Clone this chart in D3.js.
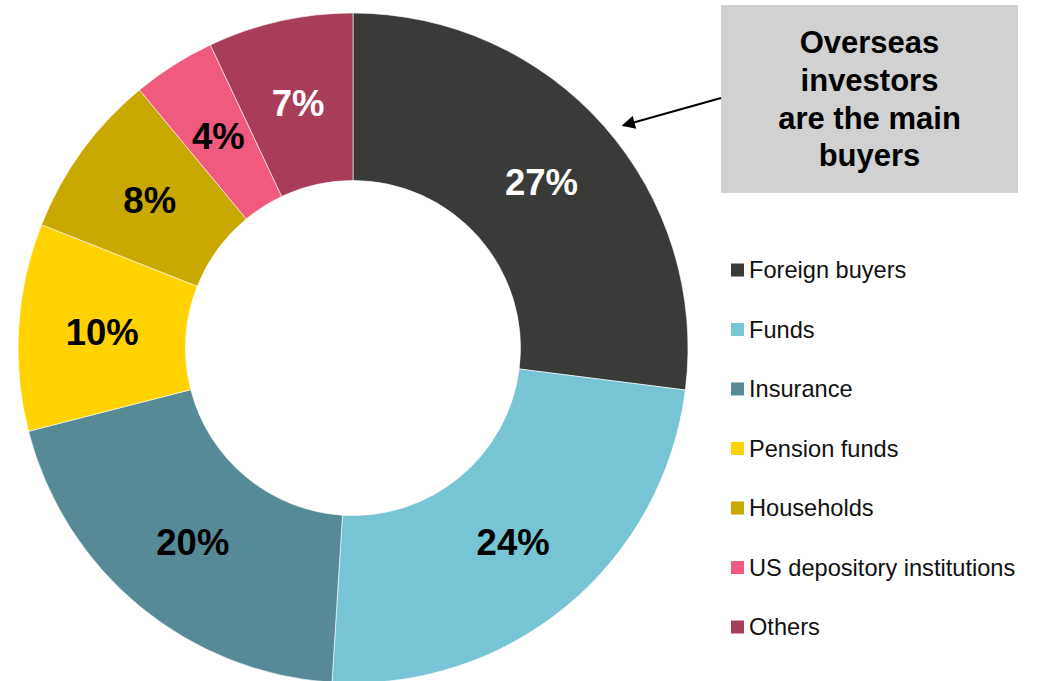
<!DOCTYPE html>
<html>
<head>
<meta charset="utf-8">
<script src="https://cdn.jsdelivr.net/npm/d3@7"></script>
<style>
  html, body { margin: 0; padding: 0; background: #ffffff; }
  svg { display: block; font-family: "Liberation Sans", Arial, sans-serif; }
</style>
</head>
<body>
<svg id="chart" width="1038" height="681"></svg>
<script>
// Holders of the debt, share of total (%)
const categories = ["Foreign buyers", "Funds", "Insurance", "Pension funds", "Households", "US depository institutions", "Others"];
const shares = [27, 24, 20, 10, 8, 4, 7];
const colors = ["#393b38", "#77c4d4", "#558a96", "#ffd200", "#c9a800", "#ef5a7e", "#a83d5a"];
const labelColors = ["#ffffff", "#000000", "#000000", "#000000", "#000000", "#000000", "#ffffff"];
const calloutLines = ["Overseas", "investors", "are the main", "buyers"];

const svg = d3.select("#chart");

// Donut geometry
const cx = 353, cy = 348, outerR = 335, innerR = 167.5;

const pie = d3.pie().sort(null).value(d => d.value);
const arcs = pie(categories.map((c, i) => ({ name: c, value: shares[i], i })));
const arc = d3.arc().innerRadius(innerR).outerRadius(outerR);
const labelArc = d3.arc().innerRadius((innerR + outerR) / 2).outerRadius((innerR + outerR) / 2);

const color = d3.scaleOrdinal().domain(categories).range(colors);

const g = svg.append("g").attr("transform", `translate(${cx},${cy})`);

g.selectAll("path.slice")
  .data(arcs)
  .join("path")
  .attr("class", "slice")
  .attr("d", arc)
  .attr("fill", d => color(d.data.name))
  .attr("stroke", "#ffffff")
  .attr("stroke-width", 0.6);

g.selectAll("text.pct")
  .data(arcs)
  .join("text")
  .attr("class", "pct")
  .attr("transform", d => `translate(${labelArc.centroid(d)})`)
  .attr("text-anchor", "middle")
  .attr("dy", "0.36em")
  .attr("font-size", 36.5)
  .attr("font-weight", "bold")
  .attr("fill", d => labelColors[d.data.i])
  .text(d => d.data.value + "%");

// Callout box
const box = { x: 721, y: 5, w: 297, h: 188 };
svg.append("rect")
  .attr("x", box.x).attr("y", box.y)
  .attr("width", box.w).attr("height", box.h)
  .attr("fill", "#d0d1d0");

svg.append("g")
  .selectAll("text")
  .data(calloutLines)
  .join("text")
  .attr("x", box.x + box.w / 2)
  .attr("y", (d, i) => 53 + i * 37.8)
  .attr("text-anchor", "middle")
  .attr("font-size", 31)
  .attr("font-weight", "bold")
  .attr("fill", "#000000")
  .text(d => d);

// Arrow pointing at the foreign-buyers slice
svg.append("defs").append("marker")
  .attr("id", "arrowhead")
  .attr("viewBox", "0 0 10 10")
  .attr("refX", 9).attr("refY", 5)
  .attr("markerWidth", 7).attr("markerHeight", 6)
  .attr("markerUnits", "strokeWidth")
  .attr("orient", "auto")
  .append("path")
  .attr("d", "M0,0 L10,5 L0,10 Z")
  .attr("fill", "#000000");

svg.append("line")
  .attr("x1", 721).attr("y1", 98)
  .attr("x2", 623).attr("y2", 125.5)
  .attr("stroke", "#000000")
  .attr("stroke-width", 2.2)
  .attr("marker-end", "url(#arrowhead)");

// Legend
const legend = svg.append("g").attr("transform", "translate(731,270)");
const rowH = 59.5;
const rows = legend.selectAll("g")
  .data(categories)
  .join("g")
  .attr("transform", (d, i) => `translate(0,${i * rowH})`);

rows.append("rect")
  .attr("x", 0).attr("y", -6.5)
  .attr("width", 13).attr("height", 13)
  .attr("fill", d => color(d));

rows.append("text")
  .attr("x", 18)
  .attr("y", 0)
  .attr("dy", "0.35em")
  .attr("font-size", 23.6)
  .attr("fill", "#111111")
  .text(d => d);
</script>
</body>
</html>
